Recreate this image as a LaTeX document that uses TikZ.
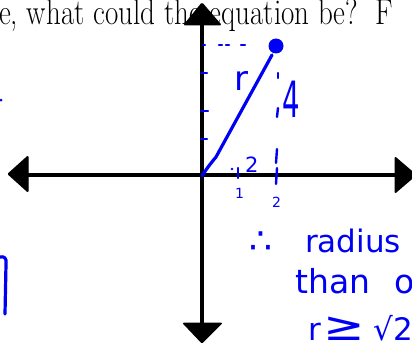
\documentclass[tikz,border=0pt]{standalone}
\usepackage{fontspec}
\newfontfamily\hand{DejaVu Sans}
\definecolor{ink}{RGB}{0,0,245}
\tikzset{
  axisline/.style={line width=3.6pt, black},
  axishead/.style={fill=black, draw=black, line width=1pt, rounded corners=1pt},
  pen/.style={draw=ink, line width=3.2pt, line cap=round, line join=round},
  thinpen/.style={draw=ink, line width=2.4pt, line cap=round},
  handtext/.style={text=ink, inner sep=0pt, anchor=base west},
}
\begin{document}
\begin{tikzpicture}[x=1pt,y=-1pt]
\useasboundingbox (0,0) rectangle (412,345);
\clip (0,0) rectangle (412,345);

% printed question (cut off at both sides)
\node[inner sep=0pt, anchor=base west, font=\fontsize{29}{30}\selectfont] (question) at (-1,25) {\scalebox{1}[1.25]{e, what could the equation be?\ \ F}};

% axes
\coordinate (L) at (26,175);
\coordinate (R) at (397,175);
\coordinate (T) at (202,23);
\coordinate (B) at (202,325);
\draw[axisline] (L) -- (R);
\draw[axisline] (T) -- (B);
\path[axishead] (8,174) -- (28,156) -- (28,192) -- cycle;
\path[axishead] (416,175) -- (395,157) -- (395,193) -- cycle;
\path[axishead] (202,3) -- (184,25) -- (221,25) -- cycle;
\path[axishead] (202,343) -- (183,323) -- (222,323) -- cycle;

% blue sketch
\coordinate (O) at (202,176);
\coordinate (P) at (276,46);
\draw[pen] (O) .. controls (207,168) and (211,163) .. (216,157) -- (272,55);
\fill[ink] (P) circle (7.5);

% dotted helper lines
\draw[thinpen] (203,45) -- (205,45);
\draw[thinpen] (219,45) -- (222,45);
\draw[thinpen] (226,45) -- (229,45);
\draw[thinpen] (241,45) -- (245,45);
\draw[thinpen] (278,73) -- (278,78);
\draw[thinpen] (278,108) -- (277,117);
\draw[thinpen] (277,149) -- (276,163);
\draw[thinpen] (277,168) -- (276,184);

% y ticks
\draw[thinpen] (201,73) -- (207,73);
\draw[thinpen] (201,111) -- (208,111);
\draw[thinpen] (201,139) -- (207,139);

% x tick at 1
\draw[thinpen] (238,168) -- (238,178);
\fill[ink] (232,169) circle (1.4);

% labels
\node[handtext, font=\hand\fontsize{34}{34}\selectfont] (rlab) at (234,90) {r};
\node[handtext, font=\hand\fontsize{50}{50}\selectfont] (four) at (282,117) {\scalebox{0.55}[1]{4}};
\node[handtext, font=\hand\fontsize{21}{21}\selectfont] (two) at (245,172) {2};
\node[handtext, font=\hand\fontsize{14}{14}\selectfont] (one) at (235,198) {1};
\node[handtext, font=\hand\fontsize{14}{14}\selectfont] (twob) at (272,207) {2};

\node[text=ink, inner sep=0pt, font=\hand\fontsize{36}{36}\selectfont] (therefore) at (261,243) {∴};
\node[handtext, font=\hand\fontsize{31}{31}\selectfont] (radius) at (305,252) {radius};
\node[handtext, font=\hand\fontsize{33}{33}\selectfont] (than) at (295,293) {than\hspace{24pt}o};
\node[handtext, font=\hand\fontsize{31}{31}\selectfont] (ineq) at (308,340) {r\hspace{3pt}\scalebox{1.6}[1.3]{≥}\hspace{8pt}√2};

% left margin marks
\draw[pen] (0,257) .. controls (4,256) and (7,258) .. (6,264) -- (5,314);
\fill[ink] (1,100) circle (1.5);
\end{tikzpicture}
\end{document}
